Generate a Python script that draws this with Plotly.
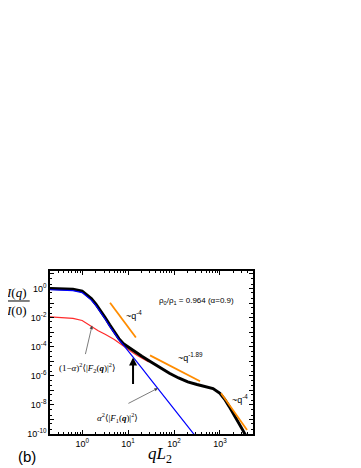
import plotly.graph_objects as go

# ---- data (log10 values) ----
black_logq = [-0.7, -0.4, -0.2, 0.0, 0.1, 0.2, 0.3, 0.4, 0.5, 0.6, 0.7, 0.8, 0.9, 1.0, 1.1, 1.2, 1.3,
              1.5, 1.7, 1.9, 2.1, 2.3, 2.5, 2.7, 2.85, 3.0, 3.1, 3.2, 3.3, 3.4, 3.5, 3.56]
black_logI = [0.0, -0.01, -0.05, -0.18, -0.42, -0.7, -1.08, -1.52, -2.0, -2.5, -3.0, -3.45, -3.8, -4.02,
              -4.22, -4.45, -4.66, -5.05, -5.45, -5.83, -6.15, -6.42, -6.6, -6.74, -6.88, -7.2, -7.6,
              -8.1, -8.62, -9.15, -9.75, -10.1]

blue_logq = [-0.7, -0.4, -0.2, 0.0, 0.1, 0.2, 0.3, 0.4, 0.5, 0.6, 0.7, 0.8, 0.9, 1.0, 1.1, 1.2, 1.3,
             1.5, 1.7, 1.9, 2.1, 2.3, 2.5]
blue_logI = [-0.09, -0.1, -0.15, -0.28, -0.52, -0.8, -1.18, -1.62, -2.1, -2.6, -3.08, -3.52, -3.9,
             -4.28, -4.68, -5.08, -5.48, -6.28, -7.08, -7.88, -8.68, -9.48, -10.28]

red_logq = [-0.7, -0.4, -0.2, 0.0, 0.1, 0.2, 0.28, 0.35, 0.5, 0.7, 0.9, 1.0, 1.1, 1.2, 1.3, 1.45]
red_logI = [-1.95, -2.0, -2.05, -2.2, -2.4, -2.62, -2.8, -2.9, -3.15, -3.5, -3.95, -4.2, -4.4,
            -4.6, -4.8, -5.05]

orange1_logq = [0.607, 1.17]
orange1_logI = [-0.98, -3.37]
orange2_logq = [1.478, 2.567]
orange2_logI = [-4.60, -6.38]
orange3_logq = [3.024, 3.59]
orange3_logI = [-7.2, -9.73]

x_tickvals = [1, 10, 100, 1000]
x_ticktext = ["10<sup>0</sup>", "10<sup>1</sup>", "10<sup>2</sup>", "10<sup>3</sup>"]
y_tickvals = [1e-10, 1e-9, 1e-8, 1e-7, 1e-6, 1e-5, 1e-4, 1e-3, 1e-2, 1e-1, 1e0, 1e1]
y_ticktext = ["10<sup>-10</sup>", "", "10<sup>-8</sup>", "", "10<sup>-6</sup>", "", "10<sup>-4</sup>", "",
              "10<sup>-2</sup>", "", "10<sup>0</sup>", ""]


def p10(v):
    return [10 ** a for a in v]


fig = go.Figure()
fig.add_trace(go.Scatter(x=p10(red_logq), y=p10(red_logI), mode="lines",
                         line=dict(color="#ff2a2a", width=1.2), showlegend=False))
fig.add_trace(go.Scatter(x=p10(black_logq), y=p10(black_logI), mode="lines",
                         line=dict(color="black", width=3), showlegend=False))
fig.add_trace(go.Scatter(x=p10(blue_logq), y=p10(blue_logI), mode="lines",
                         line=dict(color="#0000ff", width=1.2), showlegend=False))
for lq, li in [(orange1_logq, orange1_logI), (orange2_logq, orange2_logI), (orange3_logq, orange3_logI)]:
    fig.add_trace(go.Scatter(x=p10(lq), y=p10(li), mode="lines",
                             line=dict(color="#ff8c00", width=1.8), showlegend=False))

sans = "Liberation Sans, Arial, sans-serif"
serif = "Liberation Serif, DejaVu Serif, serif"


def txt(x, y, text, ref="x", size=9, family=sans, xanchor="center"):
    return dict(x=x, y=y, xref=ref if ref == "x" else "paper", yref="y" if ref == "x" else "paper",
                text=text, showarrow=False, xanchor=xanchor, yanchor="middle",
                font=dict(family=family, size=size, color="black"))


ann = []
ann.append(txt(1.13, -1.82, "~q<sup>-4</sup>", size=9))
ann.append(txt(2.35, -4.74, "~q<sup>-1.89</sup>", size=9))
ann.append(txt(3.44, -7.6, "~q<sup>-4</sup>", size=9))
ann.append(txt(1.63, -0.85, "ρ<sub>0</sub>/ρ<sub>1</sub> = 0.964 (α=0.9)", size=8, xanchor="left"))
ann.append(txt(-0.546, -5.44,
               "(1−<i>α</i>)<sup>2</sup>⟨|<i>F</i><sub>2</sub>(<b><i>q</i></b>)|<sup>2</sup>⟩",
               size=9, family=serif, xanchor="left"))
ann.append(txt(0.28, -8.84,
               "<i>α</i><sup>2</sup>⟨|<i>F</i><sub>1</sub>(<b><i>q</i></b>)|<sup>2</sup>⟩",
               size=9, family=serif, xanchor="left"))
# arrows
ann.append(dict(x=0.216, y=-2.55, xref="x", yref="y", ax=-7, ay=30, text="", showarrow=True,
                arrowhead=2, arrowsize=1, arrowwidth=0.7, arrowcolor="#444444"))
ann.append(dict(x=1.65, y=-6.85, xref="x", yref="y", ax=-31, ay=16, text="", showarrow=True,
                arrowhead=2, arrowsize=1, arrowwidth=0.7, arrowcolor="#444444"))
ann.append(dict(x=1.108, y=-4.74, xref="x", yref="y", ax=0, ay=28, text="", showarrow=True,
                arrowhead=2, arrowsize=0.8, arrowwidth=2, arrowcolor="black"))
# outside labels
ann.append(txt(-0.113, -0.141, "(b)", ref="paper", size=15))
ann.append(txt(0.542, -0.129, "<i>qL</i><sub>2</sub>", ref="paper", size=17, family=serif))
ann.append(txt(-0.163, 0.871, "<i>I</i>(<i>q</i>)", ref="paper", size=13, family=serif))
ann.append(txt(-0.163, 0.755, "<i>I</i>(0)", ref="paper", size=13, family=serif))

# page has an 8px body margin, so the figure is drawn 8px smaller
fig.update_layout(
    width=353, height=460,
    margin=dict(l=42, r=108, t=263, b=34),
    paper_bgcolor="white", plot_bgcolor="white",
    annotations=ann,
    shapes=[dict(type="line", xref="paper", yref="paper", x0=-0.222, x1=-0.1, y0=0.816, y1=0.816,
                 line=dict(color="black", width=1))],
    font=dict(family=sans, size=9, color="black"),
)
fig.update_xaxes(type="log", range=[-0.7, 3.72], showgrid=False, zeroline=False,
                 showline=True, linecolor="black", linewidth=1.5, mirror="allticks",
                 ticks="inside", ticklen=4, tickwidth=1, tickcolor="black",
                 tickmode="array", tickvals=x_tickvals, ticktext=x_ticktext,
                 tickfont=dict(family=sans, size=9),
                 minor=dict(ticks="inside", ticklen=2, dtick="D1", tickcolor="black", showgrid=False))
fig.update_yaxes(type="log", range=[-10, 1.2], showgrid=False, zeroline=False,
                 showline=True, linecolor="black", linewidth=1.5, mirror="allticks",
                 ticks="inside", ticklen=4, tickwidth=1, tickcolor="black",
                 tickmode="array", tickvals=y_tickvals, ticktext=y_ticktext,
                 tickfont=dict(family=sans, size=9),
                 minor=dict(ticks="inside", ticklen=2, dtick="D2", tickcolor="black", showgrid=False))

fig.write_html("out.html")
